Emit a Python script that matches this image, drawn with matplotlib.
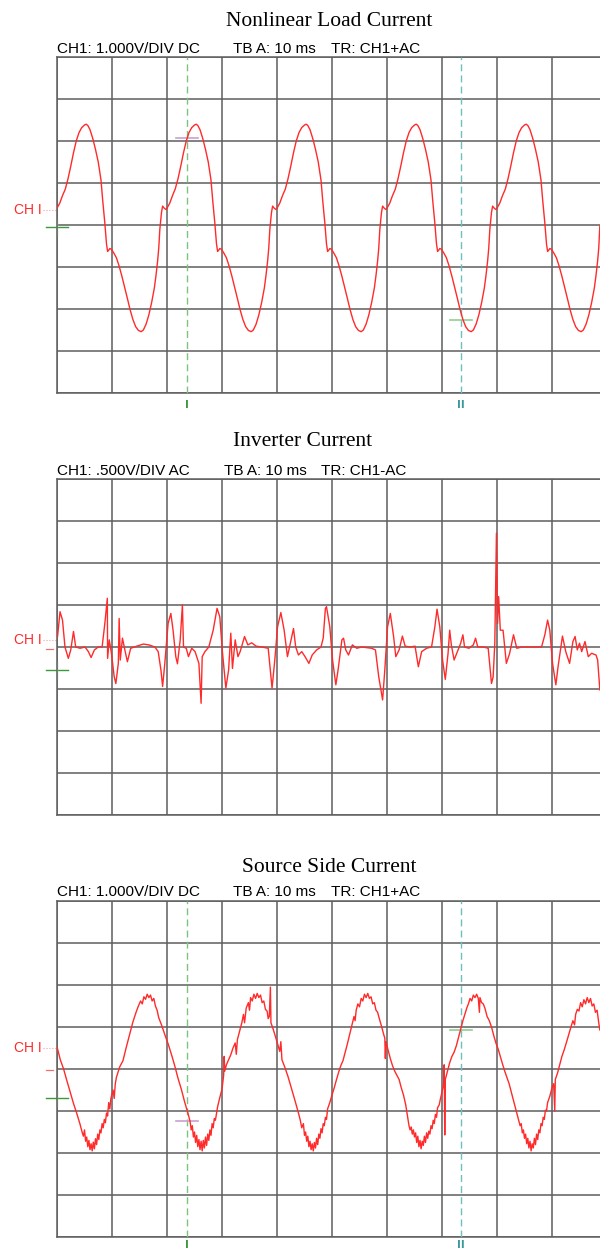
import matplotlib
matplotlib.use("Agg")
import matplotlib.pyplot as plt

# ---- data (x in divisions, 10 ms/div; y in divisions) ----
load_t = [
    0.00, 0.05, 0.10, 0.15, 0.20, 0.25, 0.30, 0.35, 0.40, 0.45, 0.50, 0.53, 0.56, 0.60, 0.65, 0.70, 0.75,
    0.80, 0.83, 0.87, 0.90, 0.92, 0.94, 0.96, 0.99, 1.03, 1.08, 1.13, 1.18, 1.23, 1.28, 1.33, 1.38, 1.43,
    1.48, 1.53, 1.57, 1.62, 1.67, 1.72, 1.77, 1.80, 1.83, 1.85, 1.87, 1.90, 1.92, 1.95, 1.98,
    2.00, 2.05, 2.10, 2.15, 2.20, 2.25, 2.30, 2.35, 2.40, 2.45, 2.50, 2.53, 2.56, 2.60, 2.65, 2.70, 2.75,
    2.80, 2.83, 2.87, 2.90, 2.92, 2.94, 2.96, 2.99, 3.03, 3.08, 3.13, 3.18, 3.23, 3.28, 3.33, 3.38, 3.43,
    3.48, 3.53, 3.57, 3.62, 3.67, 3.72, 3.77, 3.80, 3.83, 3.85, 3.87, 3.90, 3.92, 3.95, 3.98,
    4.00, 4.05, 4.10, 4.15, 4.20, 4.25, 4.30, 4.35, 4.40, 4.45, 4.50, 4.53, 4.56, 4.60, 4.65, 4.70, 4.75,
    4.80, 4.83, 4.87, 4.90, 4.92, 4.94, 4.96, 4.99, 5.03, 5.08, 5.13, 5.18, 5.23, 5.28, 5.33, 5.38, 5.43,
    5.48, 5.53, 5.57, 5.62, 5.67, 5.72, 5.77, 5.80, 5.83, 5.85, 5.87, 5.90, 5.92, 5.95, 5.98,
    6.00, 6.05, 6.10, 6.15, 6.20, 6.25, 6.30, 6.35, 6.40, 6.45, 6.50, 6.53, 6.56, 6.60, 6.65, 6.70, 6.75,
    6.80, 6.83, 6.87, 6.90, 6.92, 6.94, 6.96, 6.99, 7.03, 7.08, 7.13, 7.18, 7.23, 7.28, 7.33, 7.38, 7.43,
    7.48, 7.53, 7.57, 7.62, 7.67, 7.72, 7.77, 7.80, 7.83, 7.85, 7.87, 7.90, 7.92, 7.95, 7.98,
    8.00, 8.05, 8.10, 8.15, 8.20, 8.25, 8.30, 8.35, 8.40, 8.45, 8.50, 8.53, 8.56, 8.60, 8.65, 8.70, 8.75,
    8.80, 8.83, 8.87, 8.90, 8.92, 8.94, 8.96, 8.99, 9.03, 9.08, 9.13, 9.18, 9.23, 9.28, 9.33, 9.38, 9.43,
    9.48, 9.53, 9.57, 9.62, 9.67, 9.72, 9.77, 9.80, 9.83, 9.85, 9.87,
]
load_i = [
    0.40, 0.52, 0.70, 0.85, 1.10, 1.40, 1.72, 2.00, 2.20, 2.32, 2.38, 2.40, 2.37, 2.27, 2.06, 1.80, 1.50,
    1.07, 0.60, 0.04, -0.45, -0.63, -0.60, -0.56, -0.58, -0.66, -0.78, -0.98, -1.22, -1.48, -1.75, -2.02,
    -2.25, -2.42, -2.51, -2.54, -2.50, -2.36, -2.14, -1.85, -1.50, -1.20, -0.85, -0.55, -0.10, 0.30, 0.45,
    0.40, 0.37,
    0.40, 0.52, 0.70, 0.86, 1.10, 1.40, 1.72, 2.00, 2.20, 2.32, 2.38, 2.40, 2.37, 2.27, 2.06, 1.80, 1.50,
    1.07, 0.60, 0.04, -0.45, -0.63, -0.60, -0.56, -0.58, -0.66, -0.78, -0.98, -1.22, -1.48, -1.75, -2.02,
    -2.25, -2.42, -2.51, -2.54, -2.50, -2.36, -2.14, -1.85, -1.50, -1.20, -0.85, -0.55, -0.10, 0.30, 0.45,
    0.40, 0.37,
    0.40, 0.52, 0.70, 0.85, 1.10, 1.40, 1.72, 2.00, 2.20, 2.32, 2.38, 2.40, 2.37, 2.27, 2.06, 1.80, 1.50,
    1.07, 0.60, 0.04, -0.45, -0.63, -0.60, -0.56, -0.58, -0.66, -0.78, -0.98, -1.22, -1.48, -1.75, -2.02,
    -2.25, -2.42, -2.51, -2.54, -2.50, -2.36, -2.14, -1.85, -1.50, -1.20, -0.85, -0.55, -0.10, 0.30, 0.45,
    0.40, 0.37,
    0.40, 0.52, 0.70, 0.85, 1.10, 1.40, 1.72, 2.00, 2.20, 2.32, 2.38, 2.40, 2.37, 2.27, 2.06, 1.80, 1.50,
    1.07, 0.60, 0.04, -0.45, -0.63, -0.60, -0.56, -0.58, -0.66, -0.78, -0.98, -1.22, -1.48, -1.75, -2.02,
    -2.25, -2.42, -2.51, -2.54, -2.50, -2.36, -2.14, -1.85, -1.50, -1.20, -0.85, -0.55, -0.10, 0.30, 0.45,
    0.40, 0.37,
    0.40, 0.52, 0.70, 0.85, 1.10, 1.40, 1.72, 2.00, 2.20, 2.32, 2.38, 2.40, 2.37, 2.27, 2.06, 1.80, 1.50,
    1.07, 0.60, 0.04, -0.45, -0.63, -0.60, -0.56, -0.58, -0.66, -0.78, -0.98, -1.22, -1.48, -1.75, -2.02,
    -2.25, -2.42, -2.51, -2.54, -2.50, -2.36, -2.14, -1.85, -1.50, -1.20, -0.85, -0.55, -0.02,
]

inv_t = [
    0.01, 0.055, 0.10, 0.145, 0.206, 0.25, 0.30, 0.34, 0.42, 0.51, 0.57, 0.62, 0.68, 0.75, 0.82, 0.87,
    0.915, 0.92, 0.95, 0.99, 1.04, 1.07, 1.115, 1.13, 1.15, 1.19, 1.24, 1.28, 1.34, 1.45, 1.57, 1.67,
    1.78, 1.84, 1.89, 1.92, 1.96, 2.02, 2.07, 2.11, 2.16, 2.19, 2.24, 2.28, 2.30, 2.35, 2.39, 2.45,
    2.51, 2.58, 2.62, 2.64, 2.69, 2.76, 2.84, 2.91, 2.96, 3.01, 3.07, 3.12, 3.16, 3.19, 3.24, 3.29,
    3.33, 3.41, 3.47, 3.54, 3.62, 3.72, 3.84, 3.91, 3.96, 4.01, 4.07, 4.13, 4.19, 4.25, 4.30, 4.34,
    4.39, 4.45, 4.51, 4.58, 4.64, 4.72, 4.80, 4.84, 4.88, 4.90, 4.93, 4.96, 5.01, 5.07, 5.11, 5.18,
    5.21, 5.25, 5.30, 5.37, 5.45, 5.54, 5.72, 5.79, 5.85, 5.92, 5.96, 6.01, 6.06, 6.12, 6.16, 6.22,
    6.28, 6.33, 6.42, 6.51, 6.57, 6.63, 6.72, 6.81, 6.87, 6.91, 6.96, 7.01, 7.06, 7.11, 7.14, 7.17,
    7.22, 7.28, 7.34, 7.38, 7.41, 7.49, 7.57, 7.61, 7.65, 7.75, 7.84, 7.90, 7.93, 7.96, 7.99, 8.01,
    8.03, 8.06, 8.11, 8.17, 8.23, 8.30, 8.36, 8.45, 8.63, 8.81, 8.87, 8.92, 8.96, 9.01, 9.07, 9.11,
    9.19, 9.25, 9.32, 9.38, 9.42, 9.46, 9.50, 9.54, 9.60, 9.66, 9.72, 9.80, 9.83, 9.87,
]
inv_i = [
    0.25, 0.84, 0.64, 0.00, -0.27, -0.07, 0.37, 0.00, -0.03, 0.00, -0.11, -0.25, -0.07, 0.00, 0.00, 0.56,
    1.16, -0.27, 0.17, -0.15, -0.71, -0.87, -0.39, 0.68, -0.31, 0.21, -0.11, -0.35, -0.03, 0.02, 0.07, 0.05,
    0.00, -0.11, -0.55, -0.94, -0.39, 0.56, 0.80, 0.40, -0.23, -0.40, 0.17, 1.00, 0.00, -0.03, -0.23, -0.03,
    -0.11, -0.39, -1.34, -0.23, -0.11, 0.00, 0.40, 0.92, 0.72, -0.15, -0.98, -0.55, 0.33, -0.51, 0.17, -0.23,
    -0.11, 0.25, 0.05, 0.10, 0.02, 0.00, -0.03, -0.98, -0.31, 0.48, 0.82, 0.40, -0.23, 0.13, 0.44, 0.00,
    -0.19, -0.11, -0.23, -0.39, -0.19, -0.07, 0.00, 0.21, 0.92, 0.96, 0.72, 0.48, -0.31, -0.90, -0.55, 0.17,
    0.21, -0.07, -0.19, 0.05, -0.03, 0.00, -0.03, -0.07, -0.71, -1.26, -0.55, 0.48, 0.80, 0.25, -0.23, -0.07,
    0.26, 0.02, 0.00, 0.02, -0.47, -0.11, -0.03, 0.00, 0.48, 0.90, 0.48, -0.31, -0.77, -0.15, 0.40, 0.05,
    -0.31, -0.11, 0.09, 0.29, 0.00, -0.03, 0.05, 0.21, 0.00, 0.00, -0.03, -0.87, -0.71, 0.09, 2.71, 0.56,
    1.20, 0.40, 0.40, -0.39, -0.15, 0.29, -0.03, 0.00, 0.00, 0.00, 0.29, 0.64, 0.40, -0.39, -0.90, -0.47,
    0.26, -0.11, -0.39, 0.13, 0.25, -0.07, 0.09, -0.11, 0.13, -0.23, -0.15, -0.19, -0.31, -1.02,
]

src_t = [
    0.00, 0.06, 0.12, 0.18, 0.24, 0.30, 0.36, 0.42, 0.46, 0.48, 0.50, 0.52, 0.54, 0.56, 0.58, 0.60, 0.62,
    0.64, 0.66, 0.68, 0.70, 0.72, 0.74, 0.76, 0.78, 0.80, 0.82, 0.84, 0.86, 0.88, 0.90, 0.92, 0.94, 0.96,
    0.98, 1.02, 1.04, 1.06, 1.08, 1.14, 1.20, 1.26, 1.32, 1.38, 1.44, 1.48, 1.52, 1.55, 1.58, 1.61, 1.64,
    1.67, 1.70, 1.73, 1.76, 1.79, 1.82, 1.85, 1.90, 1.96, 2.02, 2.08, 2.14, 2.20, 2.26, 2.32, 2.38, 2.42,
    2.44, 2.46, 2.48, 2.50, 2.52, 2.54, 2.56, 2.58, 2.60, 2.62, 2.64, 2.66, 2.68, 2.70, 2.72, 2.74, 2.76,
    2.78, 2.80, 2.82, 2.84, 2.86, 2.88, 2.92, 2.96, 3.00, 3.03, 3.04, 3.05, 3.08, 3.12, 3.16, 3.20, 3.24,
    3.26, 3.28, 3.32, 3.36, 3.39, 3.41, 3.44, 3.48, 3.50, 3.52, 3.55, 3.58, 3.61, 3.64, 3.67, 3.70, 3.73,
    3.76, 3.79, 3.82, 3.84, 3.86, 3.88, 3.89, 3.93, 3.97, 4.01, 4.05, 4.07, 4.09, 4.14, 4.20, 4.26, 4.32,
    4.38, 4.42, 4.45, 4.48, 4.50, 4.52, 4.54, 4.56, 4.58, 4.60, 4.62, 4.64, 4.66, 4.68, 4.70, 4.72, 4.74,
    4.76, 4.78, 4.80, 4.82, 4.84, 4.86, 4.88, 4.90, 4.92, 4.96, 5.00, 5.04, 5.08, 5.12, 5.16, 5.20, 5.24,
    5.28, 5.32, 5.36, 5.40, 5.42, 5.44, 5.47, 5.50, 5.53, 5.56, 5.59, 5.62, 5.65, 5.68, 5.71, 5.74, 5.77,
    5.80, 5.83, 5.86, 5.90, 5.94, 5.96, 5.97, 5.98, 6.02, 6.06, 6.10, 6.14, 6.18, 6.22, 6.26, 6.30, 6.34,
    6.37, 6.40, 6.42, 6.44, 6.46, 6.48, 6.50, 6.52, 6.54, 6.56, 6.58, 6.60, 6.62, 6.64, 6.66, 6.68, 6.70,
    6.72, 6.74, 6.76, 6.78, 6.80, 6.82, 6.84, 6.86, 6.88, 6.90, 6.92, 6.95, 6.97, 7.00, 7.03, 7.04, 7.05,
    7.06, 7.10, 7.14, 7.18, 7.22, 7.26, 7.30, 7.34, 7.38, 7.42, 7.45, 7.48, 7.51, 7.54, 7.57, 7.60, 7.63,
    7.66, 7.68, 7.69, 7.72, 7.75, 7.78, 7.82, 7.86, 7.90, 7.94, 7.98, 8.02, 8.06, 8.10, 8.14, 8.18, 8.22,
    8.26, 8.30, 8.34, 8.38, 8.42, 8.44, 8.46, 8.48, 8.50, 8.52, 8.54, 8.56, 8.58, 8.60, 8.62, 8.64, 8.66,
    8.68, 8.70, 8.72, 8.74, 8.76, 8.78, 8.80, 8.82, 8.84, 8.86, 8.88, 8.90, 8.92, 8.96, 9.00, 9.03, 9.05,
    9.06, 9.10, 9.14, 9.18, 9.22, 9.26, 9.30, 9.34, 9.38, 9.41, 9.43, 9.46, 9.49, 9.52, 9.55, 9.58, 9.61,
    9.64, 9.67, 9.70, 9.73, 9.76, 9.79, 9.82, 9.85, 9.87,
]
src_i = [
    0.53, 0.22, 0.00, -0.28, -0.55, -0.82, -1.06, -1.32, -1.52, -1.60, -1.45, -1.72, -1.62, -1.85, -1.70,
    -1.92, -1.78, -1.95, -1.74, -1.90, -1.66, -1.80, -1.55, -1.68, -1.45, -1.52, -1.30, -1.40, -1.20, -1.28,
    -1.05, -1.12, -0.80, -0.95, -0.70, -0.50, -0.70, -0.35, -0.20, 0.05, 0.20, 0.52, 0.82, 1.12, 1.36, 1.50,
    1.62, 1.55, 1.72, 1.66, 1.78, 1.70, 1.76, 1.62, 1.68, 1.50, 1.40, 1.22, 1.05, 0.82, 0.60, 0.35, 0.08,
    -0.22, -0.48, -0.78, -1.05, -1.25, -1.45, -1.35, -1.62, -1.50, -1.75, -1.58, -1.85, -1.68, -1.92, -1.72,
    -1.95, -1.70, -1.88, -1.62, -1.82, -1.55, -1.70, -1.45, -1.58, -1.30, -1.40, -1.18, -1.22, -0.90, -0.68,
    -0.48, -0.15, 0.30, -0.05, 0.10, 0.22, 0.34, 0.50, 0.62, 0.35, 0.70, 0.90, 1.10, 1.30, 1.10, 1.45, 1.58,
    1.40, 1.70, 1.62, 1.78, 1.68, 1.80, 1.70, 1.76, 1.58, 1.62, 1.42, 1.38, 1.20, 1.25, 1.95, 1.10, 0.95,
    0.78, 0.60, 0.42, 0.65, 0.22, 0.05, -0.18, -0.45, -0.72, -1.00, -1.20, -1.40, -1.30, -1.58, -1.50,
    -1.72, -1.60, -1.85, -1.72, -1.92, -1.78, -1.95, -1.75, -1.88, -1.65, -1.80, -1.55, -1.65, -1.42, -1.52,
    -1.30, -1.35, -1.15, -1.20, -0.95, -0.80, -0.62, -0.45, -0.26, -0.08, 0.08, 0.20, 0.40, 0.60, 0.82,
    1.05, 1.25, 1.15, 1.40, 1.55, 1.48, 1.68, 1.62, 1.78, 1.70, 1.80, 1.68, 1.72, 1.55, 1.58, 1.40, 1.35,
    1.20, 1.02, 0.82, 0.74, 0.25, 0.65, 0.45, 0.25, 0.08, -0.05, -0.15, -0.25, -0.45, -0.62, -0.85, -1.10,
    -1.35, -1.45, -1.38, -1.55, -1.45, -1.62, -1.52, -1.75, -1.60, -1.85, -1.70, -1.90, -1.72, -1.82, -1.60,
    -1.75, -1.52, -1.65, -1.48, -1.55, -1.35, -1.42, -1.22, -1.30, -1.08, -1.15, -0.92, -0.85, -0.72, -0.55,
    -0.35, 0.10, -1.57, -0.25, -0.05, 0.15, 0.30, 0.40, 0.55, 0.75, 0.95, 1.15, 1.32, 1.45, 1.55, 1.68,
    1.62, 1.76, 1.70, 1.78, 1.68, 1.35, 1.70, 1.58, 1.55, 1.45, 1.25, 1.15, 1.00, 0.80, 0.62, 0.48, 0.30,
    0.12, -0.05, -0.20, -0.35, -0.55, -0.75, -0.95, -1.15, -1.35, -1.30, -1.52, -1.45, -1.65, -1.55, -1.78,
    -1.65, -1.88, -1.72, -1.95, -1.78, -1.88, -1.65, -1.80, -1.55, -1.68, -1.45, -1.52, -1.30, -1.35, -1.15,
    -1.20, -0.98, -1.00, -0.80, -0.65, -0.45, -0.35, -1.00, -0.25, -0.10, 0.10, 0.30, 0.45, 0.62, 0.80,
    0.98, 1.15, 1.05, 1.30, 1.42, 1.38, 1.58, 1.48, 1.65, 1.55, 1.70, 1.58, 1.68, 1.50, 1.55, 1.35, 1.40,
    1.10, 0.93,
]

titles = ["Nonlinear Load Current", "Inverter Current", "Source Side Current"]
headers = [
    ("CH1: 1.000V/DIV DC", "TB A: 10 ms", "TR: CH1+AC"),
    ("CH1: .500V/DIV AC", "TB A: 10 ms", "TR: CH1-AC"),
    ("CH1: 1.000V/DIV DC", "TB A: 10 ms", "TR: CH1+AC"),
]
cursor_I, cursor_II = 2.36, 7.35

W, H = 600, 1251
RED = "#ff2a2a"
GRID = "#5e5e5e"
C_I = "#7cc47c"
C_II = "#6cc0c0"


def fx(px):
    return px / W


def fy(py):
    return 1 - py / H


fig = plt.figure(figsize=(W / 100, H / 100), dpi=100)
fig.patch.set_facecolor("white")


def scope_axes(top_px):
    ax = fig.add_axes([fx(57), fy(top_px + 336), 550 / W, 336 / H])
    ax.set_xlim(0, 10)
    ax.set_ylim(-4, 4)
    ax.set_xticks(range(11))
    ax.set_yticks(range(-4, 5))
    ax.tick_params(length=0, labelbottom=False, labelleft=False)
    ax.grid(True, color=GRID, lw=1.1)
    for s in ax.spines.values():
        s.set_color(GRID)
        s.set_linewidth(1.1)
    return ax


def ch_marker(ax, y_text, y_gnd, y_dash=None):
    ax.text(-0.27, y_text, "CH I", color=RED, fontsize=10, ha="right", va="center",
            family="Liberation Sans", clip_on=False)
    ax.plot([-0.26, 0], [y_text, y_text], color="#f2a0a0", lw=0.8, ls=":", clip_on=False)
    ax.plot([-0.2, 0.2], [y_gnd, y_gnd], color="#3a9a3a", lw=1.0, clip_on=False)
    ax.plot([0, 0], [y_gnd - 0.2, y_gnd + 0.2], color="#a8d8a8", lw=1.0, clip_on=False)
    if y_dash is not None:
        ax.plot([-0.2, -0.07], [y_dash, y_dash], color="#f07070", lw=0.9, clip_on=False)


def cursors(ax, tick_I, tick_II, tick_I_col, tick_II_col, label_y):
    ax.axvline(cursor_I, color=C_I, lw=1.0, ls=(0, (5, 3)), zorder=3)
    ax.axvline(cursor_II, color=C_II, lw=1.0, ls=(0, (5, 3)), zorder=3)
    ax.plot([cursor_I - 0.2, cursor_I + 0.2], [tick_I, tick_I], color=tick_I_col, lw=1.2, zorder=4)
    ax.plot([cursor_II - 0.2, cursor_II + 0.2], [tick_II, tick_II], color=tick_II_col, lw=1.2, zorder=4)
    ax.text(cursor_I, label_y, "I", color="#3a9a3a", fontsize=7.5, fontweight="bold",
            ha="center", va="center", clip_on=False)
    ax.text(cursor_II, label_y, "II", color="#3a9a9a", fontsize=7.5, fontweight="bold",
            ha="center", va="center", clip_on=False)


tops = [57, 479, 901]
title_pos = [(329, 21), (303, 441), (329, 867)]
header_y = [49, 471, 892]
header_x = [(57, 233, 331), (57, 224, 321), (57, 233, 331)]
traces = [(load_t, load_i), (inv_t, inv_i), (src_t, src_i)]

for k in range(3):
    ax = scope_axes(tops[k])
    tx, ty = title_pos[k]
    fig.text(fx(tx), fy(ty), titles[k], ha="center", va="center", fontsize=15.5,
             family="Liberation Serif")
    for hx, txt in zip(header_x[k], headers[k]):
        fig.text(fx(hx), fy(header_y[k]), txt, ha="left", va="center", fontsize=11,
                 family="Liberation Sans")
    t, i = traces[k]
    ax.plot(t, i, color=RED, lw=1.0, zorder=5)
    if k == 0:
        ch_marker(ax, 0.36, -0.05)
        cursors(ax, 2.08, -2.26, "#c9a0d0", "#8fcf8f", -4.28)
    elif k == 1:
        ch_marker(ax, 0.17, -0.55, y_dash=-0.05)
    else:
        ch_marker(ax, 0.50, -0.69, y_dash=-0.02)
        cursors(ax, -1.24, 0.93, "#c9a0d0", "#8fcf8f", -4.18)

fig.savefig("out.png", dpi=100)
